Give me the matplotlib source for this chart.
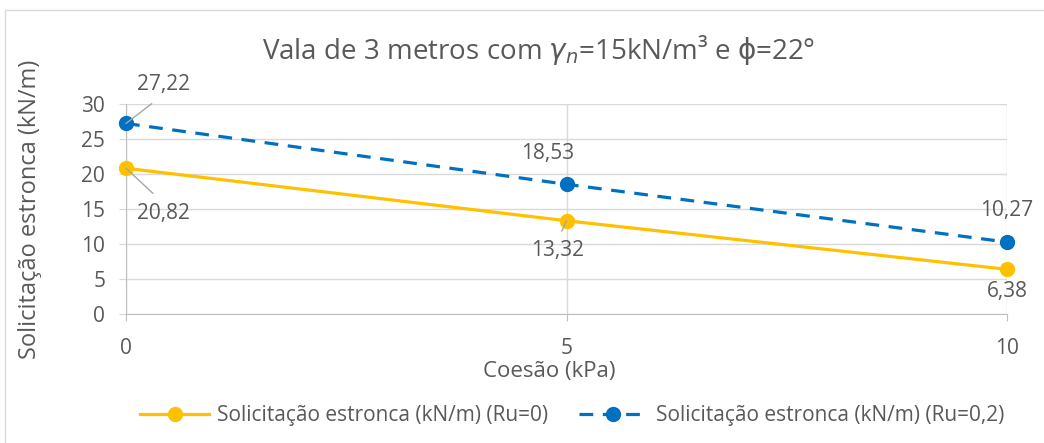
import matplotlib.pyplot as plt
from matplotlib.patches import Rectangle

plt.rcParams['font.family'] = ['Open Sans', 'DejaVu Sans']
plt.rcParams['mathtext.fontset'] = 'dejavusans'

coesao = [0, 5, 10]
ru0 = [20.82, 13.32, 6.38]
ru02 = [27.22, 18.53, 10.27]
rotulos0 = ['20,82', '13,32', '6,38']
rotulos02 = ['27,22', '18,53', '10,27']

cinza = '#595959'
amarelo = '#FFC000'
azul = '#0070C0'
grade = '#D9D9D9'

fig = plt.figure(figsize=(10.44, 4.43), dpi=100)
fig.patches.append(Rectangle((0.005, -0.01), 1.0, 0.987, transform=fig.transFigure,
                             fill=False, edgecolor=grade, lw=1))
ax = fig.add_axes([0.1207, 0.2912, 0.8439, 0.474])

l1, = ax.plot(coesao, ru0, color=amarelo, lw=2.3, marker='o', ms=10, clip_on=False,
              zorder=3, label='Solicitação estronca (kN/m) (Ru=0)')
l2, = ax.plot(coesao, ru02, color=azul, lw=2.3, ls=(0, (4.3, 3)), marker='o', ms=10,
              clip_on=False, zorder=3, label='Solicitação estronca (kN/m) (Ru=0,2)')

ax.set_xlim(0, 10)
ax.set_ylim(0, 30)
ax.set_xticks([0, 5, 10])
ax.set_yticks(range(0, 31, 5))
ax.grid(True, color=grade, lw=1)
ax.set_axisbelow(True)
for s in ['top', 'right']:
    ax.spines[s].set_visible(False)
ax.spines['left'].set_color('#BFBFBF')
ax.spines['bottom'].set_color('#BFBFBF')
ax.tick_params(axis='x', colors='#BFBFBF', length=5, pad=12, labelcolor=cinza, labelsize=15)
ax.tick_params(axis='y', colors=grade, length=5, pad=10, labelcolor=cinza, labelsize=15)

# rótulos de dados (deslocamentos em pixels)
fs = 15
lider = dict(arrowstyle='-', color='#A6A6A6', lw=1, shrinkB=0)
ax.annotate(rotulos02[0], (coesao[0], ru02[0]), xytext=(37, 39), textcoords='offset pixels',
            ha='center', va='center', color=cinza, fontsize=fs,
            arrowprops=dict(lider, relpos=(0.5, 0), shrinkA=7))
ax.annotate(rotulos0[0], (coesao[0], ru0[0]), xytext=(37, -45), textcoords='offset pixels',
            ha='center', va='center', color=cinza, fontsize=fs,
            arrowprops=dict(lider, relpos=(0.5, 1), shrinkA=7))
ax.annotate(rotulos02[1], (coesao[1], ru02[1]), xytext=(-19, 31), textcoords='offset pixels',
            ha='center', va='center', color=cinza, fontsize=fs)
ax.annotate(rotulos0[1], (coesao[1], ru0[1]), xytext=(-9, -30), textcoords='offset pixels',
            ha='center', va='center', color=cinza, fontsize=fs,
            arrowprops=dict(lider, relpos=(0.5, 1), shrinkA=5))
ax.annotate(rotulos02[2], (coesao[2], ru02[2]), xytext=(0, 32), textcoords='offset pixels',
            ha='center', va='center', color=cinza, fontsize=fs)
ax.annotate(rotulos0[2], (coesao[2], ru0[2]), xytext=(0, -22), textcoords='offset pixels',
            ha='center', va='center', color=cinza, fontsize=fs)

fig.text(0.5155, 0.887, r'Vala de 3 metros com $\gamma_n$=15kN/m³ e $\mathrm{\phi}$=22°',
         color=cinza, fontsize=20, ha='center', va='center')
ax.set_xlabel('Coesão (kPa)', color=cinza, fontsize=16)
ax.xaxis.set_label_coords(0.48, -0.276)
ax.xaxis.label.set_va('center')
ax.set_ylabel('Solicitação estronca (kN/m)', color=cinza, fontsize=17)
ax.yaxis.set_label_coords(-0.109, 0.5)
ax.yaxis.label.set_va('center')

fig.legend(handles=[l1, l2], loc='center', bbox_to_anchor=(0.548, 0.061), ncol=2,
           frameon=False, fontsize=15, handlelength=3.3, handletextpad=0.4,
           columnspacing=1.45, labelcolor=cinza)

fig.savefig('out.png', dpi=100)
